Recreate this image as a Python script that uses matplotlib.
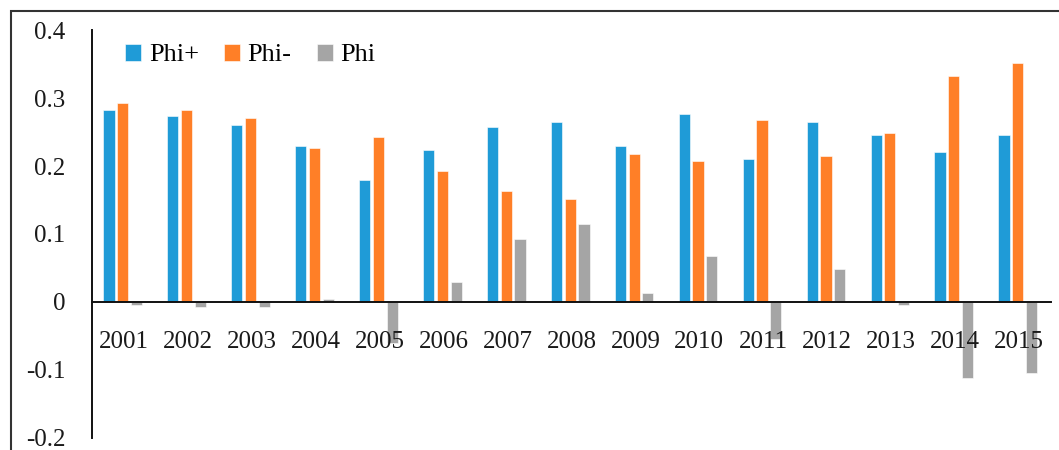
import numpy as np
import matplotlib.pyplot as plt
from matplotlib.patches import Rectangle

years = [str(y) for y in range(2001, 2016)]
phi_plus = [0.283, 0.273, 0.260, 0.230, 0.180, 0.223, 0.257, 0.264,
            0.230, 0.276, 0.210, 0.264, 0.245, 0.220, 0.245]
phi_minus = [0.292, 0.283, 0.270, 0.226, 0.242, 0.192, 0.163, 0.151,
             0.217, 0.208, 0.267, 0.214, 0.248, 0.332, 0.352]
phi = [-0.005, -0.008, -0.008, 0.004, -0.061, 0.029, 0.092, 0.114,
       0.013, 0.067, -0.055, 0.048, -0.005, -0.112, -0.105]
yticks = [-0.2, -0.1, 0, 0.1, 0.2, 0.3, 0.4]
ytick_labels = ["-0.2", "-0.1", "0", "0.1", "0.2", "0.3", "0.4"]

plt.rcParams['font.family'] = ['Liberation Serif', 'DejaVu Serif']

fig = plt.figure(figsize=(10.59, 4.5), dpi=100)
ax = fig.add_axes([0.0869, 0.0267, 0.9055, 0.9066])

x = np.arange(len(years))
w, step = 0.175, 0.215
series = [(phi_plus, "Phi+", "#1F9BD7"),
          (phi_minus, "Phi-", "#FF7F27"),
          (phi, "Phi", "#A5A5A5")]
for i, (vals, name, col) in enumerate(series):
    ax.bar(x + (i - 1) * step - 0.02, vals, w, color=col, label=name,
           edgecolor="white", linewidth=0.4)

ax.set_xlim(-0.5, len(years) - 0.5)
ax.set_ylim(-0.2, 0.4)
ax.set_yticks(yticks)
ax.set_yticklabels(ytick_labels)
ax.set_xticks(x)
ax.set_xticklabels(years)
ax.tick_params(axis='both', length=0, labelsize=18, colors="#1a1a1a")
ax.tick_params(axis='y', pad=19)
ax.tick_params(axis='x', pad=21)

for s in ("top", "right"):
    ax.spines[s].set_visible(False)
ax.spines["bottom"].set_position(("data", 0))
ax.spines["bottom"].set_linewidth(1.4)
ax.spines["left"].set_linewidth(1.4)
ax.spines["bottom"].set_color("#111")
ax.spines["left"].set_color("#111")

ax.legend(ncol=3, frameon=False, loc="upper left",
          bbox_to_anchor=(0.018, 1.005), fontsize=19,
          handlelength=0.6, handleheight=0.6, handletextpad=0.3,
          columnspacing=0.95, borderaxespad=0.2)

# outer frame, open on the right and bottom
fig.patches.append(Rectangle((11 / 1059, -0.1), 1.2, 1 - 11 / 450 + 0.1,
                             transform=fig.transFigure, fill=False,
                             edgecolor="#333", linewidth=1.5))

fig.savefig("out.png", dpi=100)
